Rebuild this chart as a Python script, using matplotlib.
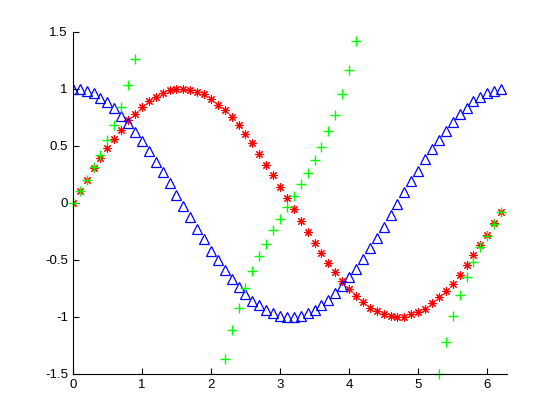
import matplotlib
matplotlib.use("Agg")
import matplotlib.pyplot as plt
from matplotlib.ticker import FuncFormatter

# sample points 0 .. 6.2
x = [0.0, 0.1, 0.2, 0.3, 0.4, 0.5, 0.6, 0.7, 0.8, 0.9,
     1.0, 1.1, 1.2, 1.3, 1.4, 1.5, 1.6, 1.7, 1.8, 1.9,
     2.0, 2.1, 2.2, 2.3, 2.4, 2.5, 2.6, 2.7, 2.8, 2.9,
     3.0, 3.1, 3.2, 3.3, 3.4, 3.5, 3.6, 3.7, 3.8, 3.9,
     4.0, 4.1, 4.2, 4.3, 4.4, 4.5, 4.6, 4.7, 4.8, 4.9,
     5.0, 5.1, 5.2, 5.3, 5.4, 5.5, 5.6, 5.7, 5.8, 5.9,
     6.0, 6.1, 6.2]

sin_vals = [0.00, 0.10, 0.20, 0.30, 0.39, 0.48, 0.56, 0.64, 0.72, 0.78,
            0.84, 0.89, 0.93, 0.96, 0.99, 1.00, 1.00, 0.99, 0.97, 0.95,
            0.91, 0.86, 0.81, 0.75, 0.68, 0.60, 0.52, 0.43, 0.33, 0.24,
            0.14, 0.04, -0.06, -0.16, -0.26, -0.35, -0.44, -0.53, -0.61, -0.69,
            -0.76, -0.82, -0.87, -0.92, -0.95, -0.98, -0.99, -1.00, -1.00, -0.98,
            -0.96, -0.93, -0.88, -0.83, -0.77, -0.71, -0.63, -0.55, -0.46, -0.37,
            -0.28, -0.18, -0.08]

cos_vals = [1.00, 1.00, 0.98, 0.96, 0.92, 0.88, 0.83, 0.76, 0.70, 0.62,
            0.54, 0.45, 0.36, 0.27, 0.17, 0.07, -0.03, -0.13, -0.23, -0.32,
            -0.42, -0.50, -0.59, -0.67, -0.74, -0.80, -0.86, -0.90, -0.94, -0.97,
            -0.99, -1.00, -1.00, -0.99, -0.97, -0.94, -0.90, -0.85, -0.79, -0.73,
            -0.65, -0.58, -0.49, -0.40, -0.31, -0.21, -0.11, -0.01, 0.09, 0.19,
            0.28, 0.38, 0.47, 0.55, 0.63, 0.71, 0.78, 0.83, 0.89, 0.93,
            0.96, 0.98, 1.00]

# only the tan points that fall inside the visible range
tan_x = [0.0, 0.1, 0.2, 0.3, 0.4, 0.5, 0.6, 0.7, 0.8, 0.9,
         2.2, 2.3, 2.4, 2.5, 2.6, 2.7, 2.8, 2.9, 3.0, 3.1,
         3.2, 3.3, 3.4, 3.5, 3.6, 3.7, 3.8, 3.9, 4.0, 4.1,
         5.3, 5.4, 5.5, 5.6, 5.7, 5.8, 5.9, 6.0, 6.1, 6.2]
tan_vals = [0.00, 0.10, 0.20, 0.31, 0.42, 0.55, 0.68, 0.84, 1.03, 1.26,
            -1.37, -1.12, -0.92, -0.75, -0.60, -0.47, -0.36, -0.24, -0.14, -0.04,
            0.06, 0.16, 0.26, 0.37, 0.49, 0.63, 0.77, 0.95, 1.16, 1.42,
            -1.50, -1.22, -0.99, -0.81, -0.65, -0.52, -0.39, -0.29, -0.19, -0.08]

x_ticks = [0, 1, 2, 3, 4, 5, 6]
y_ticks = [-1.5, -1, -0.5, 0, 0.5, 1, 1.5]

plt.rcParams['font.family'] = ['Liberation Sans', 'DejaVu Sans']
plt.rcParams['axes.unicode_minus'] = False

fig = plt.figure(figsize=(5.6, 4.2), dpi=100)
ax = fig.add_axes([0.13, 0.11, 0.775, 0.815])

# matlab style asterisk (+ and x overlaid)
ax.plot(x, sin_vals, linestyle='none', marker=(8, 2, 0), color='#ff0000',
        markersize=6, markeredgewidth=0.8)
ax.plot(x, cos_vals, linestyle='none', marker='^', color='#0000ff',
        markerfacecolor='none', markersize=7.5, markeredgewidth=0.9)
ax.plot(tan_x, tan_vals, linestyle='none', marker='+', color='#00ff00',
        markersize=7.5, markeredgewidth=1.0, clip_on=False)

ax.set_xlim(0, 6.2832)
ax.set_ylim(-1.5, 1.5)
ax.set_xticks(x_ticks)
ax.set_yticks(y_ticks)
ax.yaxis.set_major_formatter(FuncFormatter(lambda v, p: '%g' % v))

ax.spines['top'].set_visible(False)
ax.spines['right'].set_visible(False)
ax.tick_params(direction='in', length=4, width=0.8, labelsize=9.5, colors='black')

fig.savefig('out.png', dpi=100)
